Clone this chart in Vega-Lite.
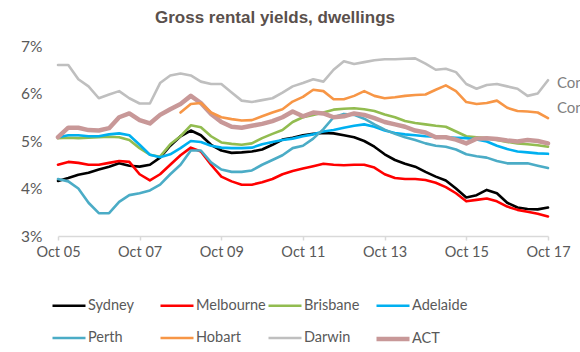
{
  "$schema": "https://vega.github.io/schema/vega-lite/v6.json",
  "width": 490,
  "height": 190,
  "autosize": {"type": "none"},
  "padding": {"left": 58, "top": 46, "right": 32, "bottom": 116},
  "background": "white",
  "title": {
    "text": "Gross rental yields, dwellings",
    "font": "Liberation Sans",
    "fontSize": 17,
    "fontWeight": "bold",
    "color": "#5a504c",
    "anchor": "middle",
    "offset": 12,
    "dx": -28
  },
  "config": {"view": {"stroke": null}},
  "layer": [
    {
      "data": {
        "values": [
          {"d": "2005-10", "Sydney": 4.16, "Melbourne": 4.5, "Brisbane": 5.06, "Adelaide": 5.08, "Perth": 4.2, "Hobart": null, "Darwin": 6.6, "ACT": 5.08},
          {"d": "2006-01", "Sydney": 4.22, "Melbourne": 4.56, "Brisbane": 5.07, "Adelaide": 5.12, "Perth": 4.15, "Hobart": null, "Darwin": 6.6, "ACT": 5.28},
          {"d": "2006-04", "Sydney": 4.29, "Melbourne": 4.54, "Brisbane": 5.06, "Adelaide": 5.12, "Perth": 4.0, "Hobart": null, "Darwin": 6.3, "ACT": 5.28},
          {"d": "2006-07", "Sydney": 4.33, "Melbourne": 4.5, "Brisbane": 5.07, "Adelaide": 5.1, "Perth": 3.7, "Hobart": null, "Darwin": 6.15, "ACT": 5.23},
          {"d": "2006-10", "Sydney": 4.4, "Melbourne": 4.5, "Brisbane": 5.08, "Adelaide": 5.1, "Perth": 3.48, "Hobart": null, "Darwin": 5.9, "ACT": 5.22},
          {"d": "2007-01", "Sydney": 4.46, "Melbourne": 4.54, "Brisbane": 5.09, "Adelaide": 5.14, "Perth": 3.48, "Hobart": null, "Darwin": 5.98, "ACT": 5.27},
          {"d": "2007-04", "Sydney": 4.53, "Melbourne": 4.58, "Brisbane": 5.08, "Adelaide": 5.16, "Perth": 3.72, "Hobart": null, "Darwin": 6.05, "ACT": 5.5},
          {"d": "2007-07", "Sydney": 4.48, "Melbourne": 4.56, "Brisbane": 5.02, "Adelaide": 5.12, "Perth": 3.86, "Hobart": null, "Darwin": 5.9, "ACT": 5.58},
          {"d": "2007-10", "Sydney": 4.46, "Melbourne": 4.3, "Brisbane": 4.85, "Adelaide": 4.92, "Perth": 3.9, "Hobart": null, "Darwin": 5.79, "ACT": 5.44},
          {"d": "2008-01", "Sydney": 4.5, "Melbourne": 4.17, "Brisbane": 4.71, "Adelaide": 4.71, "Perth": 3.96, "Hobart": null, "Darwin": 5.79, "ACT": 5.37},
          {"d": "2008-04", "Sydney": 4.65, "Melbourne": 4.3, "Brisbane": 4.67, "Adelaide": 4.66, "Perth": 4.08, "Hobart": null, "Darwin": 6.22, "ACT": 5.55},
          {"d": "2008-07", "Sydney": 4.9, "Melbourne": 4.5, "Brisbane": 4.93, "Adelaide": 4.72, "Perth": 4.3, "Hobart": null, "Darwin": 6.38, "ACT": 5.67},
          {"d": "2008-10", "Sydney": 5.1, "Melbourne": 4.7, "Brisbane": 5.1, "Adelaide": 4.85, "Perth": 4.5, "Hobart": 5.6, "Darwin": 6.42, "ACT": 5.78},
          {"d": "2009-01", "Sydney": 5.22, "Melbourne": 4.86, "Brisbane": 5.33, "Adelaide": 5.0, "Perth": 4.8, "Hobart": 5.78, "Darwin": 6.38, "ACT": 5.95},
          {"d": "2009-04", "Sydney": 5.12, "Melbourne": 4.78, "Brisbane": 5.29, "Adelaide": 4.98, "Perth": 4.8, "Hobart": 5.8, "Darwin": 6.25, "ACT": 5.8},
          {"d": "2009-07", "Sydney": 4.92, "Melbourne": 4.5, "Brisbane": 5.1, "Adelaide": 4.9, "Perth": 4.55, "Hobart": 5.6, "Darwin": 6.2, "ACT": 5.57},
          {"d": "2009-10", "Sydney": 4.8, "Melbourne": 4.25, "Brisbane": 4.97, "Adelaide": 4.86, "Perth": 4.4, "Hobart": 5.5, "Darwin": 6.2, "ACT": 5.4},
          {"d": "2010-01", "Sydney": 4.75, "Melbourne": 4.15, "Brisbane": 4.94, "Adelaide": 4.85, "Perth": 4.35, "Hobart": 5.46, "Darwin": 6.02, "ACT": 5.3},
          {"d": "2010-04", "Sydney": 4.76, "Melbourne": 4.08, "Brisbane": 4.92, "Adelaide": 4.85, "Perth": 4.35, "Hobart": 5.43, "Darwin": 5.85, "ACT": 5.28},
          {"d": "2010-07", "Sydney": 4.78, "Melbourne": 4.08, "Brisbane": 4.95, "Adelaide": 4.86, "Perth": 4.38, "Hobart": 5.44, "Darwin": 5.82, "ACT": 5.32},
          {"d": "2010-10", "Sydney": 4.82, "Melbourne": 4.13, "Brisbane": 5.06, "Adelaide": 4.93, "Perth": 4.5, "Hobart": 5.52, "Darwin": 5.86, "ACT": 5.36},
          {"d": "2011-01", "Sydney": 4.92, "Melbourne": 4.2, "Brisbane": 5.15, "Adelaide": 4.98, "Perth": 4.6, "Hobart": 5.6, "Darwin": 5.9, "ACT": 5.42},
          {"d": "2011-04", "Sydney": 5.03, "Melbourne": 4.3, "Brisbane": 5.23, "Adelaide": 5.02, "Perth": 4.7, "Hobart": 5.67, "Darwin": 6.02, "ACT": 5.5},
          {"d": "2011-07", "Sydney": 5.07, "Melbourne": 4.37, "Brisbane": 5.4, "Adelaide": 5.05, "Perth": 4.85, "Hobart": 5.83, "Darwin": 6.15, "ACT": 5.62},
          {"d": "2011-10", "Sydney": 5.12, "Melbourne": 4.42, "Brisbane": 5.5, "Adelaide": 5.1, "Perth": 4.9, "Hobart": 5.93, "Darwin": 6.22, "ACT": 5.52},
          {"d": "2012-01", "Sydney": 5.15, "Melbourne": 4.47, "Brisbane": 5.55, "Adelaide": 5.14, "Perth": 5.05, "Hobart": 6.08, "Darwin": 6.3, "ACT": 5.6},
          {"d": "2012-04", "Sydney": 5.17, "Melbourne": 4.52, "Brisbane": 5.6, "Adelaide": 5.2, "Perth": 5.25, "Hobart": 6.05, "Darwin": 6.25, "ACT": 5.58},
          {"d": "2012-07", "Sydney": 5.16, "Melbourne": 4.5, "Brisbane": 5.66, "Adelaide": 5.23, "Perth": 5.5, "Hobart": 5.88, "Darwin": 6.5, "ACT": 5.5},
          {"d": "2012-10", "Sydney": 5.12, "Melbourne": 4.49, "Brisbane": 5.68, "Adelaide": 5.28, "Perth": 5.57, "Hobart": 5.88, "Darwin": 6.68, "ACT": 5.52},
          {"d": "2013-01", "Sydney": 5.08, "Melbourne": 4.5, "Brisbane": 5.69, "Adelaide": 5.32, "Perth": 5.55, "Hobart": 5.95, "Darwin": 6.62, "ACT": 5.58},
          {"d": "2013-04", "Sydney": 5.0, "Melbourne": 4.5, "Brisbane": 5.67, "Adelaide": 5.35, "Perth": 5.47, "Hobart": 6.05, "Darwin": 6.66, "ACT": 5.55},
          {"d": "2013-07", "Sydney": 4.88, "Melbourne": 4.44, "Brisbane": 5.63, "Adelaide": 5.3, "Perth": 5.35, "Hobart": 5.95, "Darwin": 6.7, "ACT": 5.48},
          {"d": "2013-10", "Sydney": 4.72, "Melbourne": 4.3, "Brisbane": 5.56, "Adelaide": 5.22, "Perth": 5.24, "Hobart": 5.9, "Darwin": 6.72, "ACT": 5.4},
          {"d": "2014-01", "Sydney": 4.6, "Melbourne": 4.22, "Brisbane": 5.5, "Adelaide": 5.17, "Perth": 5.15, "Hobart": 5.92, "Darwin": 6.72, "ACT": 5.35},
          {"d": "2014-04", "Sydney": 4.52, "Melbourne": 4.2, "Brisbane": 5.42, "Adelaide": 5.14, "Perth": 5.08, "Hobart": 5.95, "Darwin": 6.73, "ACT": 5.3},
          {"d": "2014-07", "Sydney": 4.46, "Melbourne": 4.2, "Brisbane": 5.38, "Adelaide": 5.12, "Perth": 5.02, "Hobart": 5.97, "Darwin": 6.74, "ACT": 5.22},
          {"d": "2014-10", "Sydney": 4.35, "Melbourne": 4.18, "Brisbane": 5.35, "Adelaide": 5.1, "Perth": 4.95, "Hobart": 5.98, "Darwin": 6.63, "ACT": 5.18},
          {"d": "2015-01", "Sydney": 4.25, "Melbourne": 4.12, "Brisbane": 5.32, "Adelaide": 5.09, "Perth": 4.9, "Hobart": 6.08, "Darwin": 6.5, "ACT": 5.08},
          {"d": "2015-04", "Sydney": 4.17, "Melbourne": 4.03, "Brisbane": 5.3, "Adelaide": 5.08, "Perth": 4.88, "Hobart": 6.17, "Darwin": 6.52, "ACT": 5.08},
          {"d": "2015-07", "Sydney": 4.0, "Melbourne": 3.9, "Brisbane": 5.2, "Adelaide": 5.07, "Perth": 4.82, "Hobart": 6.05, "Darwin": 6.45, "ACT": 5.03},
          {"d": "2015-10", "Sydney": 3.81, "Melbourne": 3.73, "Brisbane": 5.1, "Adelaide": 5.06, "Perth": 4.72, "Hobart": 5.82, "Darwin": 6.2, "ACT": 4.95},
          {"d": "2016-01", "Sydney": 3.86, "Melbourne": 3.76, "Brisbane": 5.08, "Adelaide": 5.03, "Perth": 4.68, "Hobart": 5.78, "Darwin": 6.1, "ACT": 5.05},
          {"d": "2016-04", "Sydney": 3.97, "Melbourne": 3.79, "Brisbane": 5.06, "Adelaide": 4.99, "Perth": 4.65, "Hobart": 5.8, "Darwin": 6.18, "ACT": 5.06},
          {"d": "2016-07", "Sydney": 3.9, "Melbourne": 3.73, "Brisbane": 5.02, "Adelaide": 4.9, "Perth": 4.58, "Hobart": 5.85, "Darwin": 6.2, "ACT": 5.04},
          {"d": "2016-10", "Sydney": 3.7, "Melbourne": 3.62, "Brisbane": 4.98, "Adelaide": 4.83, "Perth": 4.53, "Hobart": 5.7, "Darwin": 6.15, "ACT": 5.01},
          {"d": "2017-01", "Sydney": 3.6, "Melbourne": 3.55, "Brisbane": 4.95, "Adelaide": 4.78, "Perth": 4.53, "Hobart": 5.63, "Darwin": 6.1, "ACT": 4.99},
          {"d": "2017-04", "Sydney": 3.57, "Melbourne": 3.51, "Brisbane": 4.93, "Adelaide": 4.76, "Perth": 4.53, "Hobart": 5.62, "Darwin": 5.95, "ACT": 5.02},
          {"d": "2017-07", "Sydney": 3.56, "Melbourne": 3.47, "Brisbane": 4.91, "Adelaide": 4.74, "Perth": 4.48, "Hobart": 5.6, "Darwin": 6.0, "ACT": 5.0},
          {"d": "2017-10", "Sydney": 3.6, "Melbourne": 3.41, "Brisbane": 4.88, "Adelaide": 4.73, "Perth": 4.43, "Hobart": 5.48, "Darwin": 6.28, "ACT": 4.95}
        ],
        "format": {"parse": {"d": "date:'%Y-%m'"}}
      },
      "transform": [
        {"fold": ["Sydney", "Melbourne", "Brisbane", "Adelaide", "Perth", "Hobart", "Darwin", "ACT"], "as": ["city", "v"]},
        {"filter": "datum.v != null"}
      ],
      "mark": {"type": "line", "strokeJoin": "round", "strokeCap": "round"},
      "encoding": {
        "x": {
          "field": "d",
          "type": "temporal",
          "scale": {"domain": [{"year": 2005, "month": 10, "date": 1}, {"year": 2017, "month": 10, "date": 1}]},
          "axis": {
            "title": null,
            "values": [
              {"year": 2005, "month": 10, "date": 1},
              {"year": 2007, "month": 10, "date": 1},
              {"year": 2009, "month": 10, "date": 1},
              {"year": 2011, "month": 10, "date": 1},
              {"year": 2013, "month": 10, "date": 1},
              {"year": 2015, "month": 10, "date": 1},
              {"year": 2017, "month": 10, "date": 1}
            ],
            "format": "%b %y",
            "grid": false,
            "domainColor": "#d9d9d9",
            "domainWidth": 1.5,
            "tickColor": "#d9d9d9",
            "tickWidth": 1.5,
            "tickSize": 4,
            "labelFont": "Lato",
            "labelFontSize": 14.5,
            "labelColor": "#595959",
            "labelPadding": 5,
            "labelFlush": false,
            "labelOverlap": false
          }
        },
        "y": {
          "field": "v",
          "type": "quantitative",
          "scale": {"domain": [3, 7], "nice": false, "zero": false},
          "axis": {
            "title": null,
            "values": [3, 4, 5, 6, 7],
            "labelExpr": "datum.value + '%'",
            "domain": false,
            "ticks": false,
            "grid": false,
            "labelFont": "Lato",
            "labelFontSize": 15.5,
            "labelColor": "#595959",
            "labelPadding": 16
          }
        },
        "color": {
          "field": "city",
          "type": "nominal",
          "scale": {
            "domain": ["Sydney", "Melbourne", "Brisbane", "Adelaide", "Perth", "Hobart", "Darwin", "ACT"],
            "range": ["#000000", "#ff0000", "#92bc50", "#00b0f0", "#4bacc6", "#f79646", "#bfbfbf", "#c89898"]
          },
          "legend": {
            "title": null,
            "orient": "none",
            "legendX": -8,
            "legendY": 240,
            "direction": "horizontal",
            "columns": 4,
            "gridAlign": "all",
            "symbolType": "stroke",
            "symbolSize": 1089,
            "symbolOffset": 0,
            "labelOffset": 0,
            "columnPadding": -22,
            "rowPadding": 6,
            "labelFont": "Lato",
            "labelFontSize": 14.5,
            "labelColor": "#595959"
          }
        },
        "strokeWidth": {
          "field": "city",
          "type": "nominal",
          "scale": {
            "type": "ordinal",
            "domain": ["Sydney", "Melbourne", "Brisbane", "Adelaide", "Perth", "Hobart", "Darwin", "ACT"],
            "range": [2.6, 2.6, 2.6, 2.6, 2.6, 2.6, 2.6, 4.5]
          }
        }
      }
    },
    {
      "data": {
        "values": [
          {"t": "Con", "d": "2017-10", "v": 6.23},
          {"t": "Con", "d": "2017-10", "v": 5.69}
        ],
        "format": {"parse": {"d": "date:'%Y-%m'"}}
      },
      "mark": {
        "type": "text",
        "align": "left",
        "baseline": "middle",
        "dx": 9,
        "font": "Lato",
        "fontSize": 15,
        "color": "#7f7f7f"
      },
      "encoding": {
        "x": {"field": "d", "type": "temporal"},
        "y": {"field": "v", "type": "quantitative"},
        "text": {"field": "t"}
      }
    }
  ]
}
